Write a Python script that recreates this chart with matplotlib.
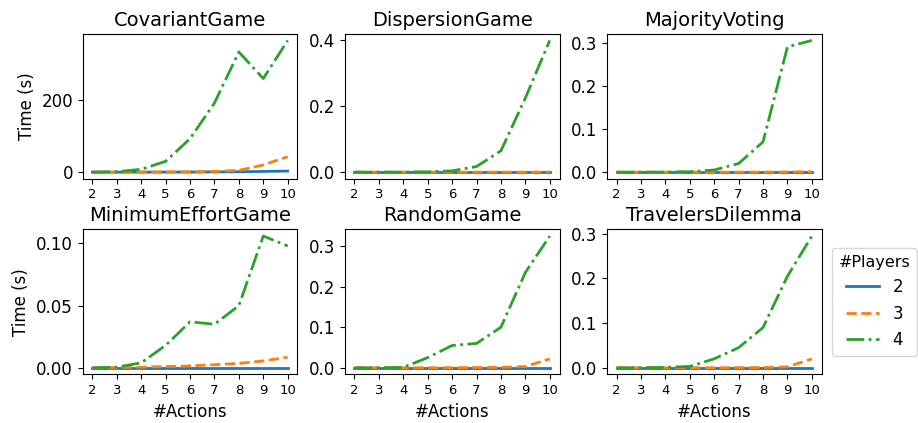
import matplotlib
matplotlib.use('Agg')
import matplotlib.pyplot as plt

actions = [2, 3, 4, 5, 6, 7, 8, 9, 10]
players = ['2', '3', '4']

games = ['CovariantGame', 'DispersionGame', 'MajorityVoting',
         'MinimumEffortGame', 'RandomGame', 'TravelersDilemma']

# times in seconds, per game: [2 players, 3 players, 4 players]
covariant = [
    [0.01, 0.02, 0.05, 0.1, 0.3, 0.6, 1.2, 2.0, 3.0],
    [0.02, 0.1, 0.3, 0.6, 1.0, 2.0, 5.0, 20.0, 43.0],
    [0.1, 1.0, 8.0, 30.0, 93.0, 192.0, 334.0, 260.0, 366.0],
]
dispersion = [
    [0.0, 0.0, 0.0, 0.0, 0.0, 0.0, 0.0, 0.0, 0.0],
    [0.0, 0.0, 0.0, 0.0, 0.0, 0.0, 0.0001, 0.0002, 0.0005],
    [0.0, 0.0, 0.0002, 0.001, 0.004, 0.017, 0.065, 0.225, 0.40],
]
majority = [
    [0.0, 0.0, 0.0, 0.0, 0.0, 0.0, 0.0, 0.0, 0.0],
    [0.0, 0.0, 0.0, 0.0, 0.0, 0.0001, 0.0002, 0.0005, 0.001],
    [0.0, 0.0, 0.0002, 0.001, 0.005, 0.02, 0.07, 0.29, 0.305],
]
min_effort = [
    [0.0001, 0.0001, 0.0001, 0.0001, 0.0001, 0.0001, 0.0001, 0.0001, 0.0001],
    [0.0, 0.0002, 0.0005, 0.001, 0.0015, 0.0025, 0.0035, 0.0055, 0.0085],
    [0.0, 0.0005, 0.004, 0.018, 0.037, 0.035, 0.05, 0.106, 0.098],
]
random_game = [
    [0.0, 0.0, 0.0, 0.0, 0.0, 0.0, 0.0, 0.0, 0.0],
    [0.0, 0.0, 0.0, 0.0001, 0.0003, 0.0006, 0.001, 0.003, 0.022],
    [0.0, 0.0, 0.001, 0.025, 0.055, 0.06, 0.1, 0.235, 0.325],
]
travelers = [
    [0.0, 0.0, 0.0, 0.0, 0.0, 0.0, 0.0, 0.0, 0.0],
    [0.0, 0.0, 0.0, 0.0, 0.0001, 0.0003, 0.0006, 0.002, 0.02],
    [0.0, 0.0, 0.001, 0.003, 0.02, 0.045, 0.09, 0.205, 0.295],
]
all_times = [covariant, dispersion, majority, min_effort, random_game, travelers]

colors = ['#1f77b4', '#ff7f0e', '#2ca02c']
styles = ['-', '--', '-.']

fig, axes = plt.subplots(2, 3, figsize=(9.18, 4.23), dpi=100)
fig.subplots_adjust(left=0.09, right=0.895, top=0.92, bottom=0.115,
                    wspace=0.22, hspace=0.35)

for idx, ax in enumerate(axes.flat):
    for p in range(3):
        ax.plot(actions, all_times[idx][p], color=colors[p], linestyle=styles[p],
                linewidth=2, label=players[p])
    ax.set_title(games[idx], fontsize=14)
    ax.set_xticks(actions)
    ax.tick_params(axis='x', labelsize=9.5)
    ax.tick_params(axis='y', labelsize=12)
    if idx % 3 == 0:
        ax.set_ylabel('Time (s)', fontsize=12)
    if idx >= 3:
        ax.set_xlabel('#Actions', fontsize=12)

axes[1, 2].legend(title='#Players', loc='center left', bbox_to_anchor=(1.01, 0.5),
                  fontsize=12, title_fontsize=11.5, borderpad=0.4,
                  handlelength=2.0, handletextpad=0.8)

plt.savefig('out.png', dpi=100)
